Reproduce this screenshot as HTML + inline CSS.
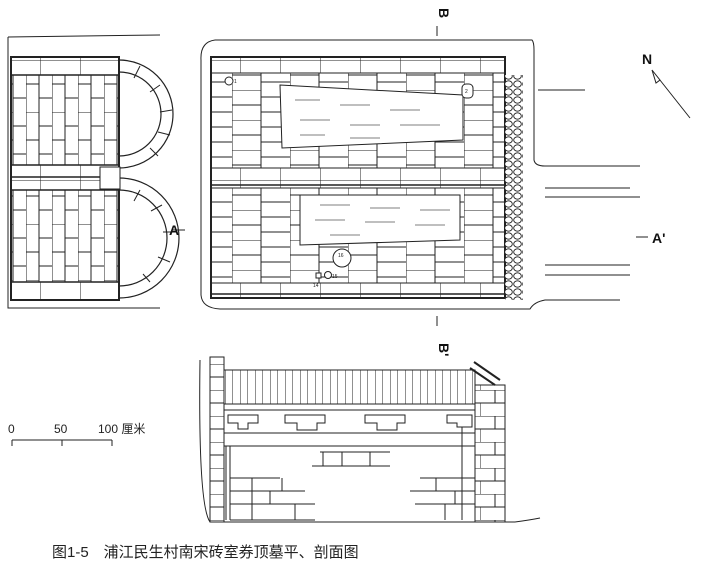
<!DOCTYPE html><html><head><meta charset="utf-8"><style>
html,body{margin:0;padding:0;background:#fff;width:702px;height:573px;overflow:hidden}
svg{display:block}
</style></head><body>
<svg width="702" height="573" viewBox="0 0 702 573" xmlns="http://www.w3.org/2000/svg" font-family="Liberation Sans, sans-serif">
<defs>
<pattern id="bv" width="26" height="56" patternUnits="userSpaceOnUse">
<rect width="26" height="56" fill="#fff"/><path d="M0 0V56M13 0V56M0 0H13M0 28H13M13 14H26M13 42H26" stroke="#222" stroke-width="1" fill="none"/></pattern>
<pattern id="bp" width="58" height="30" patternUnits="userSpaceOnUse">
<rect width="58" height="30" fill="#fff"/><path d="M0 0V30M29 0V30M0 0H29M0 15H29M29 7H58M29 22H58" stroke="#222" stroke-width="1" fill="none"/></pattern>
<pattern id="bh" width="40" height="20" patternUnits="userSpaceOnUse">
<rect width="40" height="20" fill="#fff"/><path d="M0 0H40M0 0V20" stroke="#222" stroke-width="1" fill="none"/></pattern>
<pattern id="sl" width="7.5" height="40" patternUnits="userSpaceOnUse">
<path d="M0 0V40" stroke="#222" stroke-width="1"/></pattern>
<pattern id="wb" width="30" height="26" patternUnits="userSpaceOnUse">
<rect width="30" height="26" fill="#fff"/><path d="M0 0H30M0 13H30M15 0V13M0 13V26" stroke="#222" fill="none"/></pattern>
<pattern id="st" width="9" height="8" patternUnits="userSpaceOnUse">
<ellipse cx="4.5" cy="4" rx="3.8" ry="3.2" fill="#fff" stroke="#222" stroke-width="0.9"/></pattern>
</defs>
<g stroke="#222" fill="none" stroke-width="1">
<!-- left plan -->
<path d="M8 37 L160 35 M8 37 V308 L160 308"/>
<rect x="11" y="57" width="108" height="243" fill="url(#bv)" stroke-width="2"/>
<rect x="11" y="57" width="108" height="18" fill="url(#bh)"/>
<rect x="11" y="165" width="108" height="25" fill="url(#bh)"/>
<rect x="11" y="282" width="108" height="18" fill="url(#bh)"/>
<path d="M11 75H119M11 165H119M11 177H119M11 190H119M11 282H119" stroke-width="1.5"/>
<rect x="11" y="57" width="108" height="243" stroke-width="2"/>
<path d="M119 60 A54 54 0 0 1 119 168 M119 72 A42 42 0 0 1 119 156" stroke-width="1.2"/>
<path d="M119 178 A60 60 0 0 1 119 298 M119 190 A48 48 0 0 1 119 286" stroke-width="1.2"/>
<path d="M140 66L134 78M160 85L150 92M172 110L160 112M170 135L158 132M158 156L150 148M140 190L134 201M162 205L151 211M176 232L163 232M170 262L158 257M150 282L143 274" />
<rect x="100" y="167" width="20" height="22" fill="#fff"/>
<!-- right plan outline -->
<path d="M215 40 H532 Q534 42 534 50 V160 Q535 166 545 166 H640 M215 40 Q200 42 201 60 V295 Q202 308 220 309 H530 Q534 302 545 300 H620"/>
<path d="M538 90H585 M545 188H630 M545 197H640 M545 265H630 M545 275H630"/>
<rect x="211" y="57" width="294" height="241" fill="url(#bp)" stroke-width="2"/>
<rect x="211" y="57" width="294" height="16" fill="url(#bh)"/>
<rect x="211" y="168" width="294" height="20" fill="url(#bh)"/>
<rect x="211" y="283" width="294" height="15" fill="url(#bh)"/>
<rect x="211" y="57" width="294" height="241" stroke-width="2"/>
<path d="M211 185H505M211 294H505" stroke-width="1.5"/>
<polygon points="280,85 463,95 463,140 282,148" fill="#fff"/>
<polygon points="300,195 460,195 460,240 300,245" fill="#fff"/>
<g stroke-width="0.7" stroke="#555"><path d="M295 100H320M340 105H370M390 110H420M300 120H330M350 125H380M400 125H440M300 135H325M350 138H380M320 205H350M370 208H400M420 210H450M315 220H345M365 222H395M415 225H445M330 235H360"/></g>
<rect x="505" y="75" width="18" height="225" fill="url(#st)" stroke="none"/>
<circle cx="229" cy="81" r="4" fill="#fff"/><circle cx="342" cy="258" r="9" fill="#fff"/><circle cx="328" cy="275" r="3.5" fill="#fff"/><rect x="316" y="273" width="5" height="5" fill="#fff"/>
<rect x="462" y="84" width="11" height="14" rx="4" fill="#fff"/>
<!-- north arrow -->
<path d="M652 70 L690 118 M652 70 L660 80 L656 83 Z"/>
<!-- section -->
<path d="M223 370 H475 V404 H223 Z" fill="url(#sl)"/>
<rect x="223" y="370" width="252" height="34"/>
<path d="M223 404H475M223 410H475M223 433H475M223 446H475"/>
<rect x="210" y="357" width="14" height="165" fill="url(#wb)"/>
<rect x="210" y="357" width="14" height="165"/>
<rect x="475" y="385" width="30" height="137" fill="url(#wb)"/>
<rect x="475" y="385" width="30" height="137"/>
<path d="M470 368 L495 385 M474 362 L500 380" stroke-width="2"/>
<path d="M226 446V520M230 446V520"/>
<path d="M230 478H280M230 491H305M230 504H315M230 520H315M252 478V520M270 491V504M282 478V491M295 504V520"/>
<path d="M420 478H475M410 491H475M415 504H475M436 478V491M455 491V504M445 504V520M462 420V520"/>
<path d="M320 452H390M312 466H390M342 452V466M370 452V466M323 452V466"/>
<path d="M210 522H515 M200 360 Q198 505 210 522 M515 522 Q530 520 540 518"/>
<g fill="#fff"><path d="M228 415h30v8h-10v6h-10v-6h-10z"/><path d="M285 415h40v8h-8v7h-20v-7h-12z"/><path d="M365 415h40v8h-8v7h-20v-7h-12z"/><path d="M447 415h25v12h-15v-4h-10z"/></g>
<!-- scale -->
<path d="M12 440H112M12 440V446M62 440V446M112 440V446"/>
<path d="M437 26V36M437 316V326M172 230H185M636 237H648"/>
</g>
<g fill="#111" font-weight="bold">
<text x="431" y="12" font-size="14" transform="rotate(90 437 14)">B</text>
<text x="169" y="235" font-size="14">A</text>
<text x="652" y="243" font-size="14">A'</text>
<text x="642" y="64" font-size="14">N</text>
<text x="444" y="334" font-size="14" transform="rotate(90 437 336)">B'</text>
</g>
<g fill="#222" font-size="5"><text x="234" y="83">1</text><text x="465" y="93">2</text><text x="338" y="257">16</text><text x="332" y="278">15</text><text x="313" y="287">14</text></g>
<g fill="#222" font-size="12" font-family="Liberation Sans, 'Noto Sans CJK SC', sans-serif">
<text x="8" y="433">0</text><text x="54" y="433">50</text><text x="98" y="433">100 厘米</text>
<text x="52" y="557" font-size="15">图1-5　浦江民生村南宋砖室券顶墓平、剖面图</text>
</g>
</svg>
</body></html>
